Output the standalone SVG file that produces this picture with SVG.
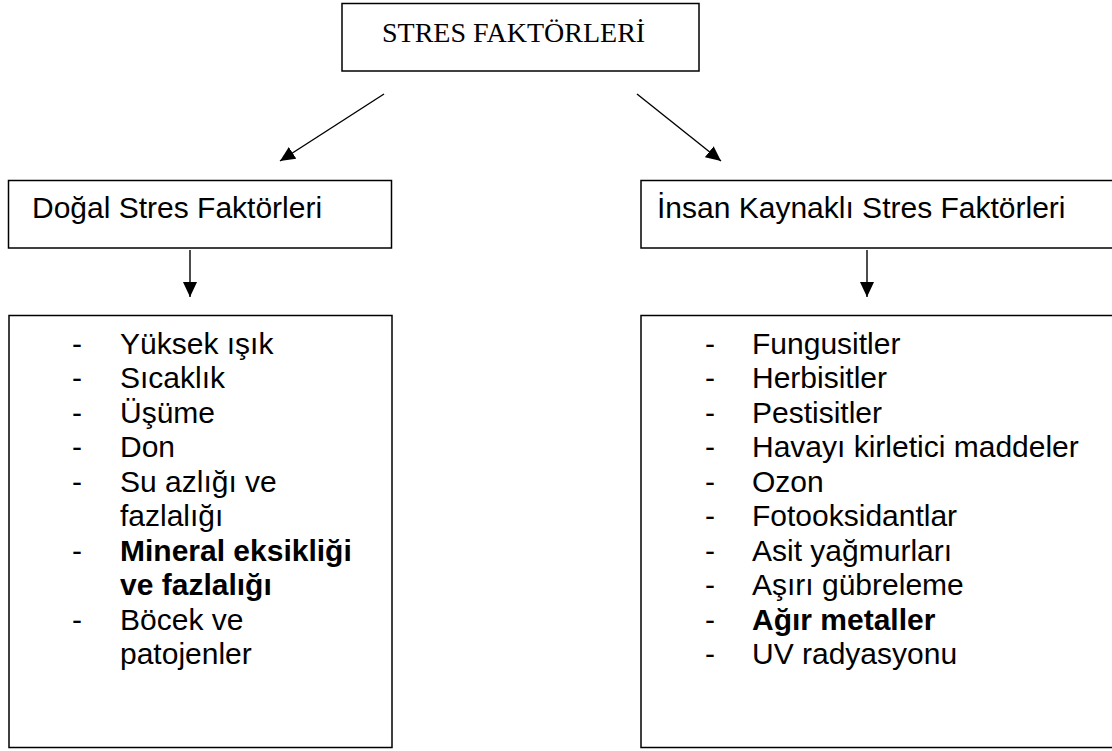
<svg xmlns="http://www.w3.org/2000/svg" width="1112" height="751" viewBox="0 0 1112 751">
<defs>
<style>
.box{fill:#fff;stroke:#000;stroke-width:1.5}
.t{font-family:"Liberation Sans",Arial,sans-serif;font-size:30px;fill:#000}
.b{font-weight:bold}
.top{font-family:"Liberation Serif","Times New Roman",serif;font-size:28px;fill:#000}
.con{stroke:#000;stroke-width:1.4;fill:none}
</style>
<marker id="ah" markerUnits="userSpaceOnUse" markerWidth="16" markerHeight="15" refX="15" refY="7" orient="auto">
<path d="M0,0 L15,7 L0,14 z" fill="#000"/>
</marker>
</defs>
<rect width="1112" height="751" fill="#fff"/>
<g id="connectors">
<line class="con" x1="384" y1="94" x2="280" y2="161" marker-end="url(#ah)"/>
<line class="con" x1="637" y1="94" x2="721" y2="161" marker-end="url(#ah)"/>
<line class="con" x1="190" y1="250" x2="190" y2="297" marker-end="url(#ah)"/>
<line class="con" x1="867" y1="250" x2="867" y2="297" marker-end="url(#ah)"/>
</g>
<g id="stres-faktorleri">
<rect class="box" x="342" y="3.5" width="357" height="67.5"/>
<text class="top" x="382" y="42">STRES FAKTÖRLERİ</text>
</g>
<g id="dogal">
<rect class="box" x="8.5" y="180.5" width="383" height="67.5"/>
<text class="t" x="32" y="218">Doğal Stres Faktörleri</text>
</g>
<g id="insan">
<rect class="box" x="641" y="180.5" width="480" height="67.5"/>
<text class="t" x="657" y="218">İnsan Kaynaklı Stres Faktörleri</text>
</g>
<g id="dogal-liste">
<rect class="box" x="9" y="315.5" width="383" height="432"/>
<text class="t" x="72" y="353.5">-</text><text class="t" x="120" y="353.5">Yüksek ışık</text>
<text class="t" x="72" y="388">-</text><text class="t" x="120" y="388">Sıcaklık</text>
<text class="t" x="72" y="422.5">-</text><text class="t" x="120" y="422.5">Üşüme</text>
<text class="t" x="72" y="457">-</text><text class="t" x="120" y="457">Don</text>
<text class="t" x="72" y="491.5">-</text><text class="t" x="120" y="491.5">Su azlığı ve</text>
<text class="t" x="120" y="526">fazlalığı</text>
<text class="t" x="72" y="560.5">-</text><text class="t b" x="120" y="560.5">Mineral eksikliği</text>
<text class="t b" x="120" y="595">ve fazlalığı</text>
<text class="t" x="72" y="629.5">-</text><text class="t" x="120" y="629.5">Böcek ve</text>
<text class="t" x="120" y="664">patojenler</text>
</g>
<g id="insan-liste">
<rect class="box" x="641" y="315.5" width="480" height="432"/>
<text class="t" x="705" y="353.5">-</text><text class="t" x="752" y="353.5">Fungusitler</text>
<text class="t" x="705" y="388">-</text><text class="t" x="752" y="388">Herbisitler</text>
<text class="t" x="705" y="422.5">-</text><text class="t" x="752" y="422.5">Pestisitler</text>
<text class="t" x="705" y="457">-</text><text class="t" x="752" y="457">Havayı kirletici maddeler</text>
<text class="t" x="705" y="491.5">-</text><text class="t" x="752" y="491.5">Ozon</text>
<text class="t" x="705" y="526">-</text><text class="t" x="752" y="526">Fotooksidantlar</text>
<text class="t" x="705" y="560.5">-</text><text class="t" x="752" y="560.5">Asit yağmurları</text>
<text class="t" x="705" y="595">-</text><text class="t" x="752" y="595">Aşırı gübreleme</text>
<text class="t" x="705" y="629.5">-</text><text class="t b" x="752" y="629.5">Ağır metaller</text>
<text class="t" x="705" y="664">-</text><text class="t" x="752" y="664">UV radyasyonu</text>
</g>
</svg>
